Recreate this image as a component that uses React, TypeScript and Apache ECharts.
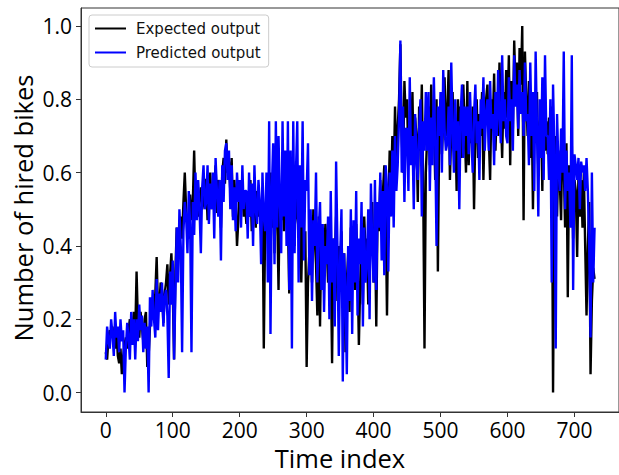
import React, { useEffect, useRef } from "react";
import * as echarts from "echarts";

// time index step between stored samples
const STEP = 2;

const expectedOutput: number[] = [
  0.11, 0.09, 0.15, 0.17, 0.16, 0.18, 0.14, 0.12, 0.17, 0.10, 0.08, 0.12, 0.05, 0.10, 0.13,
  0.15, 0.12, 0.17, 0.20, 0.14, 0.18, 0.22, 0.16, 0.33, 0.19, 0.15, 0.22, 0.18, 0.14, 0.20,
  0.22, 0.07, 0.10, 0.18, 0.25, 0.20, 0.23, 0.27, 0.37, 0.22, 0.24, 0.30, 0.28, 0.19, 0.27,
  0.30, 0.35, 0.24, 0.32, 0.38, 0.28, 0.09, 0.33, 0.45, 0.38, 0.40, 0.48, 0.42, 0.52, 0.60,
  0.50, 0.45, 0.42, 0.54, 0.47, 0.52, 0.66, 0.50, 0.55, 0.48, 0.53, 0.56, 0.50, 0.52, 0.58,
  0.58, 0.47, 0.52, 0.60, 0.50, 0.55, 0.56, 0.62, 0.49, 0.58, 0.54, 0.45, 0.60, 0.64, 0.57,
  0.69, 0.60, 0.63, 0.55, 0.64, 0.48, 0.58, 0.52, 0.40, 0.47, 0.58, 0.50, 0.55, 0.48, 0.52,
  0.46, 0.53, 0.48, 0.58, 0.44, 0.50, 0.52, 0.45, 0.55, 0.48, 0.51, 0.44, 0.56, 0.12, 0.45,
  0.48, 0.55, 0.42, 0.60, 0.45, 0.52, 0.38, 0.58, 0.50, 0.28, 0.56, 0.47, 0.62, 0.44, 0.53,
  0.55, 0.47, 0.27, 0.52, 0.44, 0.50, 0.40, 0.63, 0.48, 0.45, 0.52, 0.30, 0.47, 0.40, 0.44,
  0.07, 0.30, 0.38, 0.45, 0.30, 0.50, 0.42, 0.35, 0.21, 0.48, 0.18, 0.44, 0.40, 0.36, 0.46,
  0.40, 0.30, 0.45, 0.36, 0.08, 0.42, 0.36, 0.48, 0.25, 0.40, 0.32, 0.44, 0.28, 0.38, 0.11,
  0.30, 0.38, 0.22, 0.45, 0.33, 0.40, 0.28, 0.46, 0.35, 0.13, 0.30, 0.42, 0.24, 0.48, 0.38,
  0.42, 0.24, 0.48, 0.38, 0.52, 0.30, 0.45, 0.18, 0.50, 0.44, 0.58, 0.45, 0.55, 0.62, 0.50,
  0.21, 0.50, 0.66, 0.55, 0.70, 0.58, 0.78, 0.62, 0.72, 0.80, 0.95, 0.70, 0.60, 0.85, 0.75,
  0.80, 0.62, 0.74, 0.68, 0.82, 0.60, 0.75, 0.70, 0.52, 0.78, 0.66, 0.84, 0.58, 0.12, 0.60,
  0.70, 0.78, 0.62, 0.84, 0.68, 0.75, 0.58, 0.80, 0.33, 0.72, 0.80, 0.65, 0.74, 0.86, 0.70,
  0.76, 0.88, 0.58, 0.72, 0.82, 0.66, 0.74, 0.55, 0.80, 0.70, 0.78, 0.64, 0.84, 0.72, 0.60,
  0.85, 0.62, 0.75, 0.68, 0.78, 0.50, 0.72, 0.80, 0.64, 0.76, 0.70, 0.82, 0.58, 0.74, 0.80,
  0.84, 0.70, 0.58, 0.80, 0.73, 0.87, 0.66, 0.78, 0.70, 0.90, 0.76, 0.64, 0.82, 0.72, 0.88,
  0.75, 0.92, 0.62, 0.85, 0.72, 0.96, 0.82, 0.90, 0.70, 0.94, 0.84, 1.00, 0.47, 0.93, 0.80,
  0.70, 0.85, 0.64, 0.80, 0.50, 0.76, 0.68, 0.82, 0.60, 0.72, 0.78, 0.55, 0.84, 0.66, 0.74,
  0.65, 0.75, 0.60, 0.78, 0.00, 0.55, 0.70, 0.48, 0.66, 0.58, 0.47, 0.72, 0.62, 0.45, 0.68,
  0.26, 0.62, 0.50, 0.68, 0.42, 0.58, 0.55, 0.37, 0.60, 0.48, 0.58, 0.45, 0.60, 0.40, 0.21,
  0.40, 0.52, 0.05, 0.25, 0.34, 0.31,
];

const predictedOutput: number[] = [
  0.09, 0.18, 0.14, 0.12, 0.20, 0.16, 0.10, 0.22, 0.15, 0.18, 0.11, 0.20, 0.14, 0.17, 0.00,
  0.12, 0.19, 0.15, 0.09, 0.22, 0.13, 0.20, 0.09, 0.20, 0.14, 0.24, 0.17, 0.21, 0.11, 0.19,
  0.12, 0.18, 0.00, 0.26, 0.18, 0.28, 0.20, 0.15, 0.31, 0.17, 0.27, 0.22, 0.30, 0.18, 0.26,
  0.28, 0.21, 0.04, 0.33, 0.24, 0.36, 0.09, 0.27, 0.45, 0.30, 0.50, 0.40, 0.11, 0.44, 0.52,
  0.48, 0.38, 0.55, 0.46, 0.11, 0.52, 0.43, 0.60, 0.47, 0.58, 0.50, 0.38, 0.56, 0.62, 0.50,
  0.52, 0.62, 0.46, 0.57, 0.50, 0.60, 0.42, 0.64, 0.55, 0.48, 0.58, 0.36, 0.62, 0.52, 0.66,
  0.68, 0.58, 0.66, 0.50, 0.62, 0.47, 0.56, 0.44, 0.60, 0.52, 0.58, 0.45, 0.62, 0.50, 0.55,
  0.55, 0.42, 0.60, 0.48, 0.57, 0.40, 0.62, 0.50, 0.46, 0.58, 0.52, 0.35, 0.60, 0.48, 0.44,
  0.60, 0.30, 0.74, 0.16, 0.55, 0.68, 0.35, 0.74, 0.45, 0.70, 0.52, 0.38, 0.74, 0.48, 0.66,
  0.40, 0.74, 0.28, 0.66, 0.12, 0.74, 0.38, 0.60, 0.74, 0.30, 0.62, 0.45, 0.74, 0.36, 0.58,
  0.55, 0.68, 0.32, 0.50, 0.25, 0.47, 0.40, 0.60, 0.30, 0.44, 0.52, 0.28, 0.46, 0.22, 0.40,
  0.35, 0.48, 0.20, 0.55, 0.30, 0.42, 0.18, 0.63, 0.40, 0.10, 0.36, 0.50, 0.03, 0.38, 0.28,
  0.05, 0.40, 0.25, 0.50, 0.16, 0.47, 0.30, 0.55, 0.21, 0.42, 0.35, 0.52, 0.18, 0.45, 0.30,
  0.35, 0.50, 0.20, 0.57, 0.40, 0.30, 0.58, 0.28, 0.52, 0.45, 0.60, 0.36, 0.55, 0.32, 0.62,
  0.56, 0.33, 0.60, 0.48, 0.66, 0.45, 0.70, 0.55, 0.62, 0.75, 0.96, 0.60, 0.78, 0.52, 0.72,
  0.72, 0.55, 0.86, 0.62, 0.70, 0.50, 0.76, 0.64, 0.58, 0.72, 0.80, 0.48, 0.74, 0.66, 0.82,
  0.66, 0.82, 0.55, 0.75, 0.62, 0.86, 0.68, 0.40, 0.78, 0.70, 0.82, 0.60, 0.88, 0.72, 0.66,
  0.68, 0.78, 0.62, 0.90, 0.72, 0.60, 0.80, 0.66, 0.74, 0.50, 0.76, 0.84, 0.64, 0.78, 0.70,
  0.78, 0.65, 0.82, 0.70, 0.60, 0.76, 0.84, 0.68, 0.74, 0.58, 0.80, 0.72, 0.86, 0.66, 0.76,
  0.80, 0.66, 0.85, 0.72, 0.76, 0.62, 0.82, 0.70, 0.88, 0.75, 0.68, 0.92, 0.74, 0.80, 0.70,
  0.68, 0.86, 0.74, 0.80, 0.66, 0.92, 0.78, 0.84, 0.72, 0.88, 0.76, 0.82, 0.70, 0.90, 0.74,
  0.76, 0.62, 0.90, 0.70, 0.82, 0.55, 0.93, 0.72, 0.48, 0.80, 0.64, 0.86, 0.58, 0.92, 0.70,
  0.70, 0.58, 0.80, 0.30, 0.84, 0.66, 0.12, 0.76, 0.62, 0.55, 0.72, 0.60, 0.93, 0.50, 0.66,
  0.55, 0.60, 0.45, 0.92, 0.28, 0.65, 0.62, 0.58, 0.64, 0.50, 0.63, 0.60, 0.62, 0.55, 0.64,
  0.55, 0.40, 0.15, 0.60, 0.30, 0.45,
];

const xTicks: number[] = [0, 100, 200, 300, 400, 500, 600, 700];
const yTicks: number[] = [0, 0.2, 0.4, 0.6, 0.8, 1.0];

const seriesNames = ["Expected output", "Predicted output"];
const xTitle = "Time index";
const yTitle = "Number of hired bikes";

const toPairs = (vals: number[]) => vals.map((v, i) => [i * STEP, v]);

export default function App() {
  const ref = useRef<HTMLDivElement>(null);
  useEffect(() => {
    if (!ref.current) return;
    const chart = echarts.init(ref.current, null, { renderer: "svg" });
    const tickFont = "Open Sans";
    chart.setOption({
      animation: false,
      backgroundColor: "#fff",
      grid: {
        left: 81,
        top: 8,
        width: 543.5,
        height: 404,
        show: true,
        borderColor: "#333",
        borderWidth: 1,
        backgroundColor: "transparent",
      },
      legend: {
        orient: "vertical",
        left: 89,
        top: 15,
        padding: [6, 8, 7, 6],
        itemGap: 9,
        itemWidth: 31,
        itemHeight: 14,
        icon: "path://M0,0H31V2H0Z",
        borderColor: "#cccccc",
        borderWidth: 1,
        borderRadius: 3,
        backgroundColor: "rgba(255,255,255,0.8)",
        textStyle: {
          fontFamily: "DejaVu Sans",
          fontSize: 15,
          color: "#111",
          padding: [0, 0, 0, 5],
        },
        data: seriesNames,
      },
      xAxis: {
        type: "value",
        min: -37,
        max: 766.5,
        splitLine: { show: false },
        axisLine: { show: true, onZero: false, lineStyle: { color: "#333", width: 1 } },
        axisTick: {
          show: true,
          length: 5,
          lineStyle: { color: "#333" },
          customValues: xTicks,
        },
        axisLabel: {
          customValues: xTicks,
          fontFamily: tickFont,
          fontSize: 21,
          color: "#000",
          margin: 7,
          formatter: (v: number) => String(v),
        },
      },
      yAxis: {
        type: "value",
        min: -0.053,
        max: 1.049,
        splitLine: { show: false },
        axisLine: { show: true, onZero: false, lineStyle: { color: "#333", width: 1 } },
        axisTick: {
          show: true,
          length: 5,
          lineStyle: { color: "#333" },
          customValues: yTicks,
        },
        axisLabel: {
          customValues: yTicks,
          fontFamily: tickFont,
          fontSize: 21,
          color: "#000",
          margin: 9,
          formatter: (v: number) => v.toFixed(1),
        },
      },
      graphic: [
        {
          type: "text",
          x: 340,
          y: 458,
          style: {
            text: xTitle,
            font: "25.5px 'Open Sans'",
            fill: "#000",
            textAlign: "center",
            textVerticalAlign: "middle",
          },
        },
        {
          type: "text",
          x: 23,
          y: 208,
          rotation: Math.PI / 2,
          style: {
            text: yTitle,
            font: "25.5px 'Open Sans'",
            fill: "#000",
            textAlign: "center",
            textVerticalAlign: "middle",
          },
        },
      ],
      series: [
        {
          name: seriesNames[0],
          type: "line",
          data: toPairs(expectedOutput),
          symbol: "none",
          lineStyle: { color: "#000", width: 2.4 },
          itemStyle: { color: "#000" },
        },
        {
          name: seriesNames[1],
          type: "line",
          data: toPairs(predictedOutput),
          symbol: "none",
          lineStyle: { color: "#0000ff", width: 2.4 },
          itemStyle: { color: "#0000ff" },
        },
      ],
    });
    return () => chart.dispose();
  }, []);
  return (
    <div
      ref={ref}
      style={{ position: "fixed", left: 0, top: 0, width: 619, height: 475 }}
    />
  );
}
